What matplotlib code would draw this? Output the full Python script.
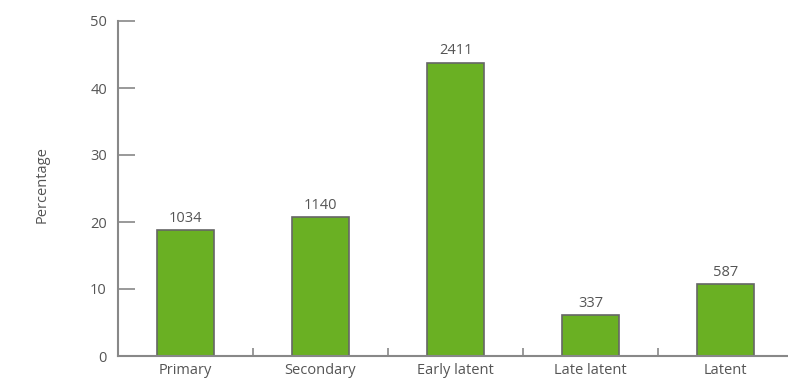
import matplotlib
matplotlib.use("Agg")
import matplotlib.pyplot as plt
from matplotlib.ticker import FixedLocator

categories = ["Primary", "Secondary", "Early latent", "Late latent", "Latent"]
percentages = [18.8, 20.7, 43.8, 6.1, 10.7]
counts = [1034, 1140, 2411, 337, 587]
y_ticks = [0, 10, 20, 30, 40, 50]

bar_color = "#6ab023"
edge_color = "#666666"
text_color = "#555555"
axis_color = "#888888"

plt.rcParams["font.family"] = ["Open Sans", "DejaVu Sans"]

fig = plt.figure(figsize=(7.88, 3.85), dpi=100)
ax = fig.add_axes([118 / 788, 29 / 385, 675 / 788, 335 / 385])

x = range(len(categories))
bars = ax.bar(x, percentages, width=0.42, color=bar_color,
              edgecolor=edge_color, linewidth=1.2, zorder=2)

for rect, n in zip(bars, counts):
    ax.annotate(str(n), (rect.get_x() + rect.get_width() / 2, rect.get_height()),
                xytext=(0, 3), textcoords="offset points",
                ha="center", va="bottom", fontsize=10.5, color=text_color)

ax.set_xlim(-0.5, len(categories) - 0.5)
ax.set_ylim(0, 50)

ax.set_yticks(y_ticks)
ax.tick_params(axis="y", direction="in", length=12, width=1.2,
               colors=axis_color, labelcolor=text_color, labelsize=10.5, pad=8)

ax.set_xticks(list(x))
ax.set_xticklabels(categories)
ax.tick_params(axis="x", which="major", length=0, labelsize=10.5,
               labelcolor=text_color, pad=5)
ax.xaxis.set_minor_locator(FixedLocator([i + 0.5 for i in range(len(categories) - 1)]))
ax.tick_params(axis="x", which="minor", direction="in", length=6, width=1.2,
               colors=axis_color)

for side in ("top", "right"):
    ax.spines[side].set_visible(False)
for side in ("left", "bottom"):
    ax.spines[side].set_color(axis_color)
    ax.spines[side].set_linewidth(1.5)

fig.text(42 / 788, 1 - 185 / 385, "Percentage", rotation=90, ha="center",
         va="center", fontsize=10.5, color=text_color)

fig.savefig("out.png", dpi=100)
